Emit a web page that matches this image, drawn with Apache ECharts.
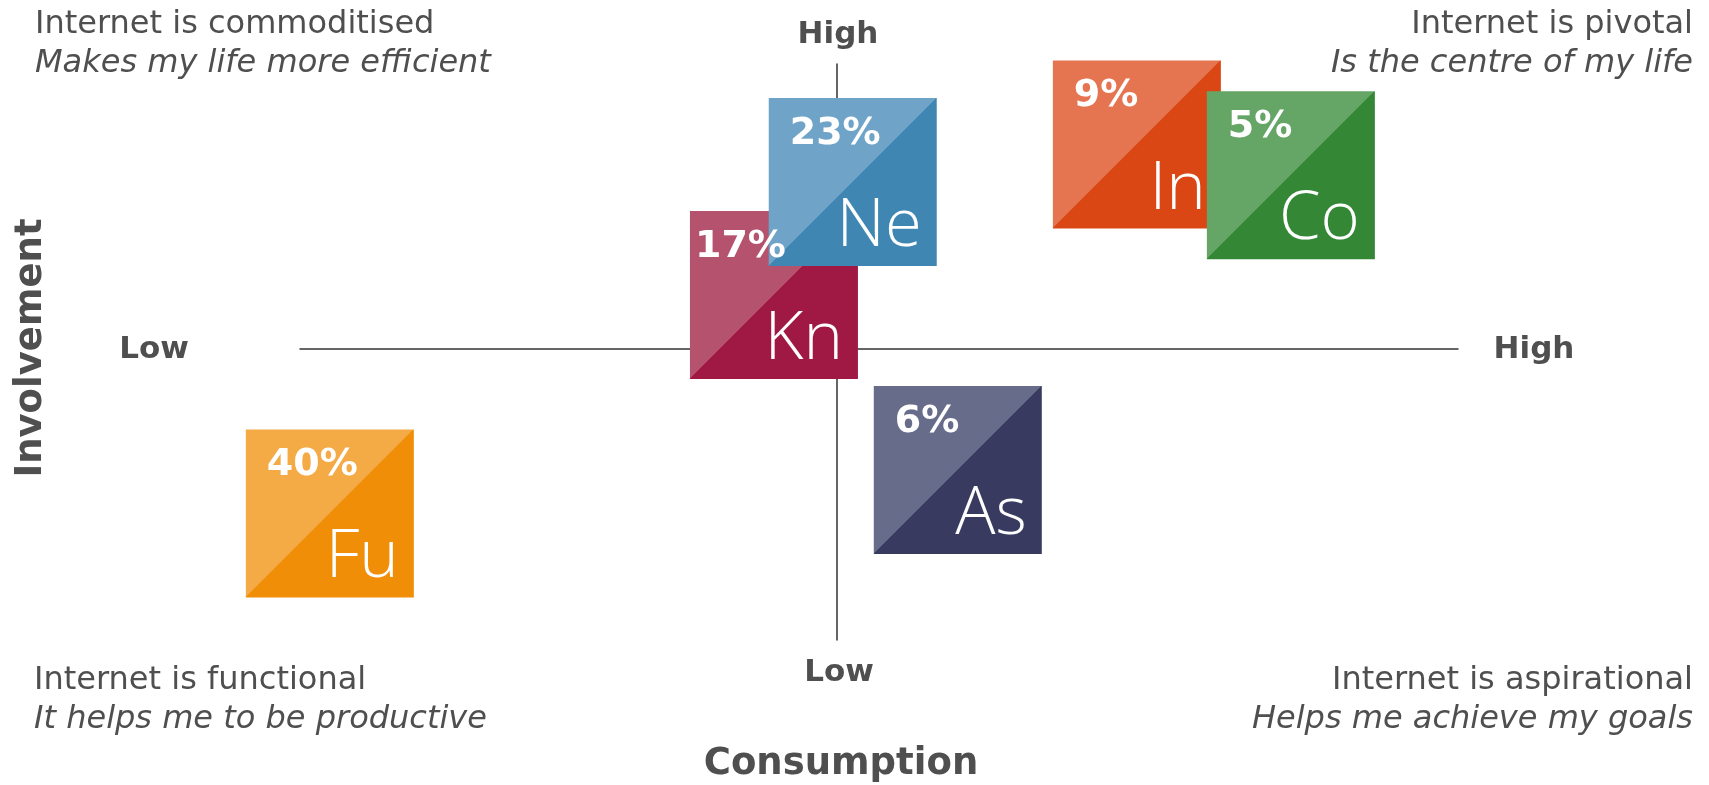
<!DOCTYPE html>
<html>
<head>
<meta charset="utf-8">
<script src="https://cdn.jsdelivr.net/npm/echarts@6/dist/echarts.min.js"></script>
<style>
html,body{margin:0;padding:0;background:#fff;}
#chart{width:1709px;height:785px;}
</style>
</head>
<body>
<div id="chart"></div>
<script>
// ---- data ----
const segments = ['Fu', 'Kn', 'Ne', 'As', 'In', 'Co'];
const shares = [40, 17, 23, 6, 9, 5];
const consumption = [-4.25, -0.53, 0.13, 1.01, 2.51, 3.80];
const involvement = [-2.88, 0.95, 2.93, -2.12, 3.59, 3.05];
const quadrantTitles = ['Internet is commoditised', 'Internet is pivotal', 'Internet is functional', 'Internet is aspirational'];
const quadrantSubtitles = ['Makes my life more efficient', 'Is the centre of my life', 'It helps me to be productive', 'Helps me achieve my goals'];
const axisEndLabels = ['Low', 'High'];

// ---- style ----
const lightColors = ['#F4AA45', '#B5536F', '#6FA4C8', '#686C8B', '#E57550', '#65A566'];
const darkColors = ['#F18E08', '#A01844', '#3F86B3', '#383A60', '#DA4714', '#338735'];
const pctShift = [0, -16, 0, 0, 0, 0];
const TEXT = '#4F4F4F';
const TILE = 168;

const chart = echarts.init(document.getElementById('chart'));

const txt = (text, x, y, font, align, extra) => Object.assign({
  type: 'text',
  style: { text: text, x: x, y: y, font: font, fill: TEXT, textAlign: align, textVerticalAlign: 'middle' }
}, extra || {});

const regular = '32px "DejaVu Sans"';
const italic = 'italic 32px "DejaVu Sans"';
const bold = 'bold 31px "DejaVu Sans"';
const title = 'bold 37px "DejaVu Sans"';

chart.setOption({
  animation: false,
  grid: { left: 300, right: 251, top: 64, bottom: 145 },
  xAxis: {
    type: 'value', min: -4.5, max: 5.2,
    axisLine: { onZero: true, lineStyle: { color: '#333', width: 1.5 } },
    axisTick: { show: false }, axisLabel: { show: false }, splitLine: { show: false }
  },
  yAxis: {
    type: 'value', min: -5.1, max: 5,
    axisLine: { onZero: true, lineStyle: { color: '#333', width: 1.5 } },
    axisTick: { show: false }, axisLabel: { show: false }, splitLine: { show: false }
  },
  graphic: [
    txt(quadrantTitles[0], 35, 25, regular, 'left'),
    txt(quadrantSubtitles[0], 35, 64, italic, 'left'),
    txt(quadrantTitles[1], 1693, 25, regular, 'right'),
    txt(quadrantSubtitles[1], 1693, 64, italic, 'right'),
    txt(quadrantTitles[2], 34, 681, regular, 'left'),
    txt(quadrantSubtitles[2], 34, 720, italic, 'left'),
    txt(quadrantTitles[3], 1693, 681, regular, 'right'),
    txt(quadrantSubtitles[3], 1693, 720, italic, 'right'),
    txt(axisEndLabels[1], 838, 35, bold, 'center'),
    txt(axisEndLabels[0], 839, 673, bold, 'center'),
    txt(axisEndLabels[0], 154, 350, bold, 'center'),
    txt(axisEndLabels[1], 1534, 350, bold, 'center'),
    txt('Consumption', 841, 764, title, 'center'),
    txt('Involvement', 0, 0, title, 'center', { x: 31, y: 348, rotation: Math.PI / 2 })
  ],
  series: [{
    type: 'custom',
    coordinateSystem: 'cartesian2d',
    clip: false,
    data: segments.map((s, i) => [consumption[i], involvement[i], shares[i]]),
    renderItem: function (params, api) {
      const i = params.dataIndex;
      const c = api.coord([api.value(0), api.value(1)]);
      const x0 = c[0] - TILE / 2, y0 = c[1] - TILE / 2;
      return {
        type: 'group',
        children: [
          {
            type: 'rect', z2: i * 2,
            shape: { x: x0, y: y0, width: TILE, height: TILE },
            style: {
              fill: new echarts.graphic.LinearGradient(0, 0, 1, 1, [
                { offset: 0, color: lightColors[i] },
                { offset: 0.497, color: lightColors[i] },
                { offset: 0.5, color: darkColors[i] },
                { offset: 1, color: darkColors[i] }
              ])
            }
          },
          {
            type: 'text', z2: i * 2 + 1,
            style: {
              text: segments[i], x: x0 + TILE - 15, y: y0 + TILE - 39,
              font: '300 67px "Open Sans"', fill: '#fff',
              textAlign: 'right', textVerticalAlign: 'middle'
            }
          },
          {
            type: 'text', z2: 100,
            style: {
              text: api.value(2) + '%', x: x0 + 21 + pctShift[i], y: y0 + 36,
              font: 'bold 38px "DejaVu Sans"', fill: '#fff',
              textAlign: 'left', textVerticalAlign: 'middle'
            }
          }
        ]
      };
    }
  }]
});
</script>
</body>
</html>
